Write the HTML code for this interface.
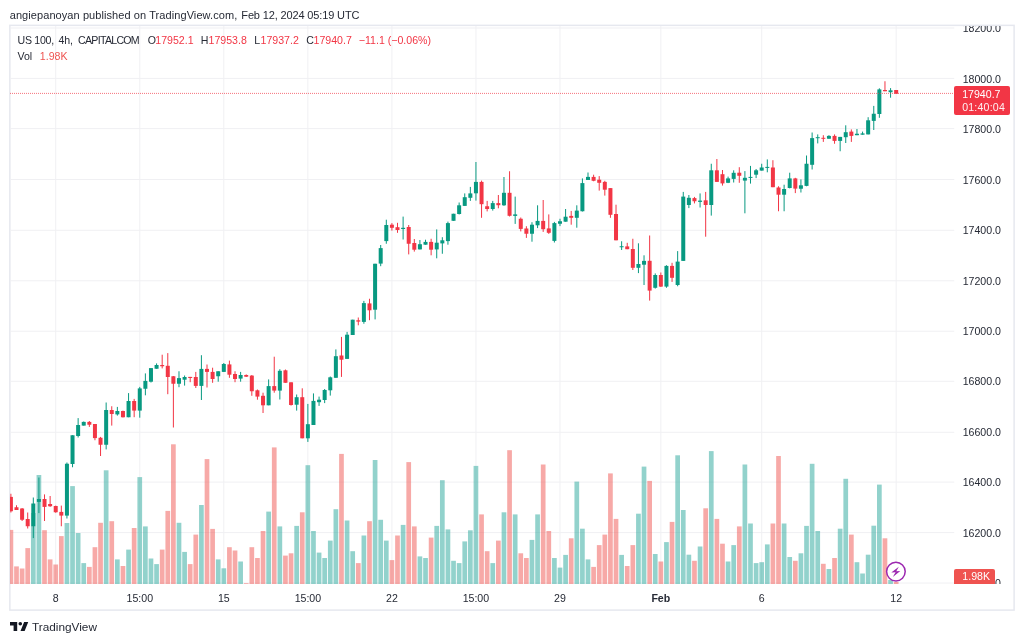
<!DOCTYPE html>
<html><head><meta charset="utf-8"><title>US 100 chart</title>
<style>
html,body{margin:0;padding:0;background:#fff;}
body{width:1024px;height:643px;position:relative;overflow:hidden;font-family:"Liberation Sans",sans-serif;color:#262a35;}
.t{position:absolute;white-space:nowrap;line-height:1;}
#frame{position:absolute;left:9px;top:25px;width:1005px;height:585px;border:1px solid #E0E3EB;box-sizing:content-box;}
.ax{position:absolute;left:962.5px;font-size:10.6px;line-height:12px;height:12px;white-space:nowrap;color:#262a35;}
.tm{position:absolute;top:591.6px;font-size:10.6px;line-height:12px;height:12px;white-space:nowrap;transform:translateX(-50%);color:#262a35;}
.r{color:#F23645;}
#axclip{position:absolute;left:955px;top:26px;width:59px;height:558px;overflow:hidden;}
</style></head><body>

<div class="t" id="hdr" style="left:9.7px;top:7.6px;font-size:11px;line-height:14px;color:#262a35;letter-spacing:0.08px">angiepanoyan published on TradingView.com,</div>
<div class="t" id="hdr2" style="left:241.3px;top:7.6px;font-size:11px;line-height:14px;color:#262a35;letter-spacing:-0.14px">Feb 12, 2024 05:19 UTC</div>
<svg width="1024" height="643" viewBox="0 0 1024 643" style="position:absolute;left:0;top:0"><defs><clipPath id="pane"><rect x="10" y="26" width="944.5" height="558"/></clipPath></defs><rect x="9.85" y="25.35" width="1004.25" height="584.75" fill="none" stroke="#E6E8EF" stroke-width="1.5"/><g clip-path="url(#pane)"><rect x="55.22" y="26" width="1" height="558" fill="#F0F0F3"/><rect x="139.26" y="26" width="1" height="558" fill="#F0F0F3"/><rect x="223.31" y="26" width="1" height="558" fill="#F0F0F3"/><rect x="307.36" y="26" width="1" height="558" fill="#F0F0F3"/><rect x="391.40" y="26" width="1" height="558" fill="#F0F0F3"/><rect x="475.44" y="26" width="1" height="558" fill="#F0F0F3"/><rect x="559.49" y="26" width="1" height="558" fill="#F0F0F3"/><rect x="660.34" y="26" width="1" height="558" fill="#F0F0F3"/><rect x="761.20" y="26" width="1" height="558" fill="#F0F0F3"/><rect x="895.67" y="26" width="1" height="558" fill="#F0F0F3"/><rect x="10" y="27.50" width="944.5" height="1" fill="#F0F0F3"/><rect x="10" y="77.90" width="944.5" height="1" fill="#F0F0F3"/><rect x="10" y="128.10" width="944.5" height="1" fill="#F0F0F3"/><rect x="10" y="179.00" width="944.5" height="1" fill="#F0F0F3"/><rect x="10" y="229.80" width="944.5" height="1" fill="#F0F0F3"/><rect x="10" y="280.30" width="944.5" height="1" fill="#F0F0F3"/><rect x="10" y="330.70" width="944.5" height="1" fill="#F0F0F3"/><rect x="10" y="380.80" width="944.5" height="1" fill="#F0F0F3"/><rect x="10" y="431.80" width="944.5" height="1" fill="#F0F0F3"/><rect x="10" y="481.60" width="944.5" height="1" fill="#F0F0F3"/><rect x="10" y="532.10" width="944.5" height="1" fill="#F0F0F3"/><rect x="10" y="582.55" width="944.5" height="1" fill="#F0F0F3"/></g><g clip-path="url(#pane)"><rect x="8.55" y="529.90" width="4.7" height="54.10" fill="rgba(239,83,80,0.5)"/><rect x="14.15" y="566.40" width="4.7" height="17.60" fill="rgba(239,83,80,0.5)"/><rect x="19.75" y="568.50" width="4.7" height="15.50" fill="rgba(239,83,80,0.5)"/><rect x="25.35" y="548.10" width="4.7" height="35.90" fill="rgba(239,83,80,0.5)"/><rect x="30.96" y="513.00" width="4.7" height="71.00" fill="rgba(38,166,154,0.5)"/><rect x="36.56" y="475.00" width="4.7" height="109.00" fill="rgba(38,166,154,0.5)"/><rect x="42.16" y="530.20" width="4.7" height="53.80" fill="rgba(239,83,80,0.5)"/><rect x="47.77" y="559.40" width="4.7" height="24.60" fill="rgba(239,83,80,0.5)"/><rect x="53.37" y="564.50" width="4.7" height="19.50" fill="rgba(239,83,80,0.5)"/><rect x="58.97" y="536.10" width="4.7" height="47.90" fill="rgba(239,83,80,0.5)"/><rect x="64.58" y="523.00" width="4.7" height="61.00" fill="rgba(38,166,154,0.5)"/><rect x="70.18" y="486.10" width="4.7" height="97.90" fill="rgba(38,166,154,0.5)"/><rect x="75.78" y="533.00" width="4.7" height="51.00" fill="rgba(38,166,154,0.5)"/><rect x="81.39" y="563.10" width="4.7" height="20.90" fill="rgba(38,166,154,0.5)"/><rect x="86.99" y="566.90" width="4.7" height="17.10" fill="rgba(239,83,80,0.5)"/><rect x="92.59" y="547.20" width="4.7" height="36.80" fill="rgba(239,83,80,0.5)"/><rect x="98.19" y="522.80" width="4.7" height="61.20" fill="rgba(239,83,80,0.5)"/><rect x="103.80" y="470.30" width="4.7" height="113.70" fill="rgba(38,166,154,0.5)"/><rect x="109.40" y="521.20" width="4.7" height="62.80" fill="rgba(239,83,80,0.5)"/><rect x="115.00" y="559.40" width="4.7" height="24.60" fill="rgba(38,166,154,0.5)"/><rect x="120.61" y="566.00" width="4.7" height="18.00" fill="rgba(239,83,80,0.5)"/><rect x="126.21" y="549.60" width="4.7" height="34.40" fill="rgba(38,166,154,0.5)"/><rect x="131.81" y="528.00" width="4.7" height="56.00" fill="rgba(239,83,80,0.5)"/><rect x="137.41" y="477.10" width="4.7" height="106.90" fill="rgba(38,166,154,0.5)"/><rect x="143.02" y="526.40" width="4.7" height="57.60" fill="rgba(38,166,154,0.5)"/><rect x="148.62" y="558.50" width="4.7" height="25.50" fill="rgba(38,166,154,0.5)"/><rect x="154.22" y="564.10" width="4.7" height="19.90" fill="rgba(38,166,154,0.5)"/><rect x="159.83" y="549.60" width="4.7" height="34.40" fill="rgba(239,83,80,0.5)"/><rect x="165.43" y="510.90" width="4.7" height="73.10" fill="rgba(239,83,80,0.5)"/><rect x="171.03" y="444.30" width="4.7" height="139.70" fill="rgba(239,83,80,0.5)"/><rect x="176.64" y="522.80" width="4.7" height="61.20" fill="rgba(38,166,154,0.5)"/><rect x="182.24" y="551.90" width="4.7" height="32.10" fill="rgba(38,166,154,0.5)"/><rect x="187.84" y="564.10" width="4.7" height="19.90" fill="rgba(239,83,80,0.5)"/><rect x="193.44" y="534.60" width="4.7" height="49.40" fill="rgba(239,83,80,0.5)"/><rect x="199.05" y="505.00" width="4.7" height="79.00" fill="rgba(38,166,154,0.5)"/><rect x="204.65" y="459.10" width="4.7" height="124.90" fill="rgba(239,83,80,0.5)"/><rect x="210.25" y="528.90" width="4.7" height="55.10" fill="rgba(239,83,80,0.5)"/><rect x="215.86" y="559.40" width="4.7" height="24.60" fill="rgba(38,166,154,0.5)"/><rect x="221.46" y="568.30" width="4.7" height="15.70" fill="rgba(38,166,154,0.5)"/><rect x="227.06" y="547.20" width="4.7" height="36.80" fill="rgba(239,83,80,0.5)"/><rect x="232.67" y="550.50" width="4.7" height="33.50" fill="rgba(239,83,80,0.5)"/><rect x="238.27" y="561.50" width="4.7" height="22.50" fill="rgba(38,166,154,0.5)"/><rect x="243.87" y="583.20" width="4.7" height="0.80" fill="rgba(239,83,80,0.5)"/><rect x="249.47" y="547.20" width="4.7" height="36.80" fill="rgba(239,83,80,0.5)"/><rect x="255.08" y="558.00" width="4.7" height="26.00" fill="rgba(239,83,80,0.5)"/><rect x="260.68" y="531.00" width="4.7" height="53.00" fill="rgba(239,83,80,0.5)"/><rect x="266.28" y="511.60" width="4.7" height="72.40" fill="rgba(38,166,154,0.5)"/><rect x="271.89" y="447.40" width="4.7" height="136.60" fill="rgba(239,83,80,0.5)"/><rect x="277.49" y="526.40" width="4.7" height="57.60" fill="rgba(38,166,154,0.5)"/><rect x="283.09" y="555.60" width="4.7" height="28.40" fill="rgba(239,83,80,0.5)"/><rect x="288.70" y="553.30" width="4.7" height="30.70" fill="rgba(239,83,80,0.5)"/><rect x="294.30" y="525.90" width="4.7" height="58.10" fill="rgba(38,166,154,0.5)"/><rect x="299.90" y="512.30" width="4.7" height="71.70" fill="rgba(239,83,80,0.5)"/><rect x="305.50" y="465.20" width="4.7" height="118.80" fill="rgba(38,166,154,0.5)"/><rect x="311.11" y="531.00" width="4.7" height="53.00" fill="rgba(38,166,154,0.5)"/><rect x="316.71" y="552.60" width="4.7" height="31.40" fill="rgba(38,166,154,0.5)"/><rect x="322.31" y="558.00" width="4.7" height="26.00" fill="rgba(38,166,154,0.5)"/><rect x="327.92" y="540.60" width="4.7" height="43.40" fill="rgba(38,166,154,0.5)"/><rect x="333.52" y="509.20" width="4.7" height="74.80" fill="rgba(38,166,154,0.5)"/><rect x="339.12" y="453.90" width="4.7" height="130.10" fill="rgba(239,83,80,0.5)"/><rect x="344.73" y="520.50" width="4.7" height="63.50" fill="rgba(38,166,154,0.5)"/><rect x="350.33" y="551.20" width="4.7" height="32.80" fill="rgba(38,166,154,0.5)"/><rect x="355.93" y="563.10" width="4.7" height="20.90" fill="rgba(239,83,80,0.5)"/><rect x="361.53" y="535.50" width="4.7" height="48.50" fill="rgba(38,166,154,0.5)"/><rect x="367.14" y="521.20" width="4.7" height="62.80" fill="rgba(239,83,80,0.5)"/><rect x="372.74" y="460.00" width="4.7" height="124.00" fill="rgba(38,166,154,0.5)"/><rect x="378.34" y="519.80" width="4.7" height="64.20" fill="rgba(38,166,154,0.5)"/><rect x="383.95" y="540.60" width="4.7" height="43.40" fill="rgba(38,166,154,0.5)"/><rect x="389.55" y="560.10" width="4.7" height="23.90" fill="rgba(239,83,80,0.5)"/><rect x="395.15" y="535.50" width="4.7" height="48.50" fill="rgba(239,83,80,0.5)"/><rect x="400.76" y="524.90" width="4.7" height="59.10" fill="rgba(38,166,154,0.5)"/><rect x="406.36" y="462.10" width="4.7" height="121.90" fill="rgba(239,83,80,0.5)"/><rect x="411.96" y="526.40" width="4.7" height="57.60" fill="rgba(239,83,80,0.5)"/><rect x="417.56" y="556.40" width="4.7" height="27.60" fill="rgba(38,166,154,0.5)"/><rect x="423.17" y="558.00" width="4.7" height="26.00" fill="rgba(38,166,154,0.5)"/><rect x="428.77" y="537.60" width="4.7" height="46.40" fill="rgba(239,83,80,0.5)"/><rect x="434.37" y="525.90" width="4.7" height="58.10" fill="rgba(38,166,154,0.5)"/><rect x="439.98" y="480.20" width="4.7" height="103.80" fill="rgba(38,166,154,0.5)"/><rect x="445.58" y="529.40" width="4.7" height="54.60" fill="rgba(38,166,154,0.5)"/><rect x="451.18" y="560.80" width="4.7" height="23.20" fill="rgba(38,166,154,0.5)"/><rect x="456.79" y="563.10" width="4.7" height="20.90" fill="rgba(38,166,154,0.5)"/><rect x="462.39" y="541.40" width="4.7" height="42.60" fill="rgba(38,166,154,0.5)"/><rect x="467.99" y="530.30" width="4.7" height="53.70" fill="rgba(38,166,154,0.5)"/><rect x="473.59" y="465.90" width="4.7" height="118.10" fill="rgba(38,166,154,0.5)"/><rect x="479.20" y="514.40" width="4.7" height="69.60" fill="rgba(239,83,80,0.5)"/><rect x="484.80" y="551.20" width="4.7" height="32.80" fill="rgba(239,83,80,0.5)"/><rect x="490.40" y="563.10" width="4.7" height="20.90" fill="rgba(38,166,154,0.5)"/><rect x="496.01" y="540.60" width="4.7" height="43.40" fill="rgba(239,83,80,0.5)"/><rect x="501.61" y="512.30" width="4.7" height="71.70" fill="rgba(38,166,154,0.5)"/><rect x="507.21" y="450.20" width="4.7" height="133.80" fill="rgba(239,83,80,0.5)"/><rect x="512.82" y="514.40" width="4.7" height="69.60" fill="rgba(38,166,154,0.5)"/><rect x="518.42" y="553.30" width="4.7" height="30.70" fill="rgba(239,83,80,0.5)"/><rect x="524.02" y="558.00" width="4.7" height="26.00" fill="rgba(239,83,80,0.5)"/><rect x="529.62" y="539.90" width="4.7" height="44.10" fill="rgba(38,166,154,0.5)"/><rect x="535.23" y="514.40" width="4.7" height="69.60" fill="rgba(38,166,154,0.5)"/><rect x="540.83" y="464.50" width="4.7" height="119.50" fill="rgba(239,83,80,0.5)"/><rect x="546.43" y="531.00" width="4.7" height="53.00" fill="rgba(239,83,80,0.5)"/><rect x="552.04" y="558.00" width="4.7" height="26.00" fill="rgba(38,166,154,0.5)"/><rect x="557.64" y="567.60" width="4.7" height="16.40" fill="rgba(38,166,154,0.5)"/><rect x="563.24" y="554.90" width="4.7" height="29.10" fill="rgba(38,166,154,0.5)"/><rect x="568.85" y="538.30" width="4.7" height="45.70" fill="rgba(239,83,80,0.5)"/><rect x="574.45" y="481.60" width="4.7" height="102.40" fill="rgba(38,166,154,0.5)"/><rect x="580.05" y="528.70" width="4.7" height="55.30" fill="rgba(38,166,154,0.5)"/><rect x="585.65" y="559.40" width="4.7" height="24.60" fill="rgba(38,166,154,0.5)"/><rect x="591.26" y="566.90" width="4.7" height="17.10" fill="rgba(239,83,80,0.5)"/><rect x="596.86" y="545.10" width="4.7" height="38.90" fill="rgba(239,83,80,0.5)"/><rect x="602.46" y="534.60" width="4.7" height="49.40" fill="rgba(239,83,80,0.5)"/><rect x="608.07" y="473.40" width="4.7" height="110.60" fill="rgba(239,83,80,0.5)"/><rect x="613.67" y="518.90" width="4.7" height="65.10" fill="rgba(239,83,80,0.5)"/><rect x="619.27" y="554.90" width="4.7" height="29.10" fill="rgba(38,166,154,0.5)"/><rect x="624.88" y="566.00" width="4.7" height="18.00" fill="rgba(239,83,80,0.5)"/><rect x="630.48" y="545.10" width="4.7" height="38.90" fill="rgba(239,83,80,0.5)"/><rect x="636.08" y="513.70" width="4.7" height="70.30" fill="rgba(38,166,154,0.5)"/><rect x="641.68" y="466.60" width="4.7" height="117.40" fill="rgba(38,166,154,0.5)"/><rect x="647.29" y="480.90" width="4.7" height="103.10" fill="rgba(239,83,80,0.5)"/><rect x="652.89" y="554.00" width="4.7" height="30.00" fill="rgba(38,166,154,0.5)"/><rect x="658.49" y="561.50" width="4.7" height="22.50" fill="rgba(239,83,80,0.5)"/><rect x="664.10" y="542.10" width="4.7" height="41.90" fill="rgba(38,166,154,0.5)"/><rect x="669.70" y="521.90" width="4.7" height="62.10" fill="rgba(239,83,80,0.5)"/><rect x="675.30" y="455.30" width="4.7" height="128.70" fill="rgba(38,166,154,0.5)"/><rect x="680.91" y="510.00" width="4.7" height="74.00" fill="rgba(38,166,154,0.5)"/><rect x="686.51" y="554.70" width="4.7" height="29.30" fill="rgba(38,166,154,0.5)"/><rect x="692.11" y="560.80" width="4.7" height="23.20" fill="rgba(239,83,80,0.5)"/><rect x="697.72" y="546.50" width="4.7" height="37.50" fill="rgba(38,166,154,0.5)"/><rect x="703.32" y="508.30" width="4.7" height="75.70" fill="rgba(239,83,80,0.5)"/><rect x="708.92" y="451.10" width="4.7" height="132.90" fill="rgba(38,166,154,0.5)"/><rect x="714.52" y="518.90" width="4.7" height="65.10" fill="rgba(239,83,80,0.5)"/><rect x="720.13" y="543.70" width="4.7" height="40.30" fill="rgba(239,83,80,0.5)"/><rect x="725.73" y="561.50" width="4.7" height="22.50" fill="rgba(38,166,154,0.5)"/><rect x="731.33" y="545.10" width="4.7" height="38.90" fill="rgba(38,166,154,0.5)"/><rect x="736.94" y="526.40" width="4.7" height="57.60" fill="rgba(239,83,80,0.5)"/><rect x="742.54" y="464.50" width="4.7" height="119.50" fill="rgba(38,166,154,0.5)"/><rect x="748.14" y="523.50" width="4.7" height="60.50" fill="rgba(38,166,154,0.5)"/><rect x="753.75" y="563.10" width="4.7" height="20.90" fill="rgba(38,166,154,0.5)"/><rect x="759.35" y="562.20" width="4.7" height="21.80" fill="rgba(38,166,154,0.5)"/><rect x="764.95" y="544.40" width="4.7" height="39.60" fill="rgba(38,166,154,0.5)"/><rect x="770.55" y="523.50" width="4.7" height="60.50" fill="rgba(239,83,80,0.5)"/><rect x="776.16" y="456.00" width="4.7" height="128.00" fill="rgba(239,83,80,0.5)"/><rect x="781.76" y="523.50" width="4.7" height="60.50" fill="rgba(38,166,154,0.5)"/><rect x="787.36" y="557.00" width="4.7" height="27.00" fill="rgba(38,166,154,0.5)"/><rect x="792.97" y="560.80" width="4.7" height="23.20" fill="rgba(239,83,80,0.5)"/><rect x="798.57" y="553.30" width="4.7" height="30.70" fill="rgba(38,166,154,0.5)"/><rect x="804.17" y="525.90" width="4.7" height="58.10" fill="rgba(38,166,154,0.5)"/><rect x="809.77" y="463.80" width="4.7" height="120.20" fill="rgba(38,166,154,0.5)"/><rect x="815.38" y="531.00" width="4.7" height="53.00" fill="rgba(38,166,154,0.5)"/><rect x="820.98" y="563.80" width="4.7" height="20.20" fill="rgba(239,83,80,0.5)"/><rect x="826.58" y="569.00" width="4.7" height="15.00" fill="rgba(38,166,154,0.5)"/><rect x="832.19" y="558.00" width="4.7" height="26.00" fill="rgba(239,83,80,0.5)"/><rect x="837.79" y="528.70" width="4.7" height="55.30" fill="rgba(38,166,154,0.5)"/><rect x="843.39" y="478.80" width="4.7" height="105.20" fill="rgba(38,166,154,0.5)"/><rect x="849.00" y="534.60" width="4.7" height="49.40" fill="rgba(239,83,80,0.5)"/><rect x="854.60" y="562.20" width="4.7" height="21.80" fill="rgba(38,166,154,0.5)"/><rect x="860.20" y="573.50" width="4.7" height="10.50" fill="rgba(38,166,154,0.5)"/><rect x="865.80" y="554.70" width="4.7" height="29.30" fill="rgba(38,166,154,0.5)"/><rect x="871.41" y="525.70" width="4.7" height="58.30" fill="rgba(38,166,154,0.5)"/><rect x="877.01" y="484.60" width="4.7" height="99.40" fill="rgba(38,166,154,0.5)"/><rect x="882.61" y="538.30" width="4.7" height="45.70" fill="rgba(239,83,80,0.5)"/><rect x="888.22" y="580.00" width="4.7" height="4.00" fill="rgba(38,166,154,0.5)"/><rect x="893.82" y="582.00" width="4.7" height="2.00" fill="rgba(239,83,80,0.5)"/></g><g clip-path="url(#pane)"><rect x="10.40" y="493.75" width="1" height="18.75" fill="#F23645"/><rect x="8.90" y="496.90" width="4.0" height="14.35" fill="#F23645"/><rect x="16.00" y="505.25" width="1" height="4.75" fill="#F23645"/><rect x="14.50" y="507.25" width="4.0" height="2.75" fill="#F23645"/><rect x="21.60" y="508.00" width="1" height="13.00" fill="#F23645"/><rect x="20.10" y="508.50" width="4.0" height="11.25" fill="#F23645"/><rect x="27.20" y="512.50" width="1" height="16.00" fill="#F23645"/><rect x="25.70" y="519.00" width="4.0" height="7.25" fill="#F23645"/><rect x="32.81" y="497.50" width="1" height="40.60" fill="#089981"/><rect x="31.31" y="503.50" width="4.0" height="22.75" fill="#089981"/><rect x="38.41" y="477.50" width="1" height="35.60" fill="#089981"/><rect x="36.91" y="499.00" width="4.0" height="2.90" fill="#089981"/><rect x="44.01" y="494.40" width="1" height="26.60" fill="#F23645"/><rect x="42.51" y="499.00" width="4.0" height="7.90" fill="#F23645"/><rect x="49.62" y="496.00" width="1" height="10.90" fill="#F23645"/><rect x="48.12" y="504.00" width="4.0" height="2.25" fill="#F23645"/><rect x="55.22" y="505.60" width="1" height="7.15" fill="#F23645"/><rect x="53.72" y="506.00" width="4.0" height="6.25" fill="#F23645"/><rect x="60.82" y="505.60" width="1" height="20.65" fill="#F23645"/><rect x="59.32" y="511.90" width="4.0" height="3.70" fill="#F23645"/><rect x="66.43" y="462.50" width="1" height="56.00" fill="#089981"/><rect x="64.93" y="463.75" width="4.0" height="51.85" fill="#089981"/><rect x="72.03" y="435.25" width="1" height="32.00" fill="#089981"/><rect x="70.53" y="435.25" width="4.0" height="28.75" fill="#089981"/><rect x="77.63" y="418.10" width="1" height="19.40" fill="#089981"/><rect x="76.13" y="425.00" width="4.0" height="11.00" fill="#089981"/><rect x="83.23" y="421.50" width="1" height="4.10" fill="#089981"/><rect x="81.73" y="421.90" width="4.0" height="3.70" fill="#089981"/><rect x="88.84" y="421.00" width="1" height="5.90" fill="#F23645"/><rect x="87.34" y="421.90" width="4.0" height="2.85" fill="#F23645"/><rect x="94.44" y="424.00" width="1" height="16.25" fill="#F23645"/><rect x="92.94" y="424.00" width="4.0" height="14.10" fill="#F23645"/><rect x="100.04" y="436.90" width="1" height="19.10" fill="#F23645"/><rect x="98.54" y="437.75" width="4.0" height="7.00" fill="#F23645"/><rect x="105.65" y="402.50" width="1" height="46.90" fill="#089981"/><rect x="104.15" y="410.00" width="4.0" height="34.75" fill="#089981"/><rect x="111.25" y="406.25" width="1" height="19.35" fill="#F23645"/><rect x="109.75" y="410.00" width="4.0" height="4.00" fill="#F23645"/><rect x="116.85" y="406.90" width="1" height="8.70" fill="#089981"/><rect x="115.35" y="411.00" width="4.0" height="3.40" fill="#089981"/><rect x="122.46" y="410.60" width="1" height="6.90" fill="#F23645"/><rect x="120.96" y="411.00" width="4.0" height="6.25" fill="#F23645"/><rect x="128.06" y="393.10" width="1" height="24.15" fill="#089981"/><rect x="126.56" y="401.00" width="4.0" height="16.25" fill="#089981"/><rect x="133.66" y="398.90" width="1" height="18.30" fill="#F23645"/><rect x="132.16" y="401.00" width="4.0" height="9.60" fill="#F23645"/><rect x="139.26" y="386.90" width="1" height="30.80" fill="#089981"/><rect x="137.76" y="388.40" width="4.0" height="22.20" fill="#089981"/><rect x="144.87" y="373.40" width="1" height="21.90" fill="#089981"/><rect x="143.37" y="380.90" width="4.0" height="7.85" fill="#089981"/><rect x="150.47" y="368.10" width="1" height="14.40" fill="#089981"/><rect x="148.97" y="368.10" width="4.0" height="13.60" fill="#089981"/><rect x="156.07" y="363.40" width="1" height="5.35" fill="#089981"/><rect x="154.57" y="365.00" width="4.0" height="3.75" fill="#089981"/><rect x="161.68" y="354.70" width="1" height="13.70" fill="#F23645"/><rect x="160.18" y="365.00" width="4.0" height="1.25" fill="#F23645"/><rect x="167.28" y="353.10" width="1" height="41.10" fill="#F23645"/><rect x="165.78" y="365.80" width="4.0" height="11.20" fill="#F23645"/><rect x="172.88" y="376.00" width="1" height="51.50" fill="#F23645"/><rect x="171.38" y="376.25" width="4.0" height="7.50" fill="#F23645"/><rect x="178.49" y="371.25" width="1" height="15.95" fill="#089981"/><rect x="176.99" y="378.10" width="4.0" height="5.65" fill="#089981"/><rect x="184.09" y="375.50" width="1" height="10.10" fill="#089981"/><rect x="182.59" y="377.00" width="4.0" height="2.70" fill="#089981"/><rect x="189.69" y="376.90" width="1" height="5.30" fill="#F23645"/><rect x="188.19" y="376.90" width="4.0" height="1.10" fill="#F23645"/><rect x="195.29" y="371.90" width="1" height="16.10" fill="#F23645"/><rect x="193.79" y="377.00" width="4.0" height="8.90" fill="#F23645"/><rect x="200.90" y="355.20" width="1" height="44.80" fill="#089981"/><rect x="199.40" y="368.90" width="4.0" height="17.00" fill="#089981"/><rect x="206.50" y="364.50" width="1" height="23.00" fill="#F23645"/><rect x="205.00" y="368.90" width="4.0" height="3.00" fill="#F23645"/><rect x="212.10" y="367.70" width="1" height="15.10" fill="#F23645"/><rect x="210.60" y="371.90" width="4.0" height="7.10" fill="#F23645"/><rect x="217.71" y="371.25" width="1" height="10.45" fill="#089981"/><rect x="216.21" y="371.25" width="4.0" height="5.00" fill="#089981"/><rect x="223.31" y="363.00" width="1" height="8.90" fill="#089981"/><rect x="221.81" y="364.00" width="4.0" height="7.90" fill="#089981"/><rect x="228.91" y="360.60" width="1" height="17.20" fill="#F23645"/><rect x="227.41" y="364.40" width="4.0" height="10.30" fill="#F23645"/><rect x="234.52" y="371.25" width="1" height="10.95" fill="#F23645"/><rect x="233.02" y="374.00" width="4.0" height="5.00" fill="#F23645"/><rect x="240.12" y="371.90" width="1" height="9.80" fill="#089981"/><rect x="238.62" y="375.00" width="4.0" height="3.60" fill="#089981"/><rect x="245.72" y="374.40" width="1" height="2.60" fill="#F23645"/><rect x="244.22" y="375.00" width="4.0" height="1.70" fill="#F23645"/><rect x="251.32" y="375.00" width="1" height="20.80" fill="#F23645"/><rect x="249.82" y="375.60" width="4.0" height="15.65" fill="#F23645"/><rect x="256.93" y="389.50" width="1" height="10.20" fill="#F23645"/><rect x="255.43" y="390.30" width="4.0" height="6.30" fill="#F23645"/><rect x="262.53" y="392.70" width="1" height="20.30" fill="#F23645"/><rect x="261.03" y="395.80" width="4.0" height="9.50" fill="#F23645"/><rect x="268.13" y="379.40" width="1" height="25.90" fill="#089981"/><rect x="266.63" y="386.10" width="4.0" height="19.20" fill="#089981"/><rect x="273.74" y="356.70" width="1" height="36.00" fill="#F23645"/><rect x="272.24" y="386.10" width="4.0" height="4.50" fill="#F23645"/><rect x="279.34" y="369.20" width="1" height="30.30" fill="#089981"/><rect x="277.84" y="370.80" width="4.0" height="19.80" fill="#089981"/><rect x="284.94" y="369.50" width="1" height="13.30" fill="#F23645"/><rect x="283.44" y="370.30" width="4.0" height="12.50" fill="#F23645"/><rect x="290.55" y="382.30" width="1" height="23.30" fill="#F23645"/><rect x="289.05" y="382.30" width="4.0" height="22.70" fill="#F23645"/><rect x="296.15" y="394.50" width="1" height="16.10" fill="#089981"/><rect x="294.65" y="397.20" width="4.0" height="7.50" fill="#089981"/><rect x="301.75" y="388.30" width="1" height="50.00" fill="#F23645"/><rect x="300.25" y="397.20" width="4.0" height="41.10" fill="#F23645"/><rect x="307.36" y="403.90" width="1" height="38.00" fill="#089981"/><rect x="305.86" y="424.20" width="4.0" height="14.10" fill="#089981"/><rect x="312.96" y="393.40" width="1" height="31.60" fill="#089981"/><rect x="311.46" y="400.90" width="4.0" height="24.10" fill="#089981"/><rect x="318.56" y="396.60" width="1" height="9.30" fill="#089981"/><rect x="317.06" y="399.70" width="4.0" height="2.50" fill="#089981"/><rect x="324.16" y="389.00" width="1" height="14.10" fill="#089981"/><rect x="322.66" y="390.00" width="4.0" height="10.00" fill="#089981"/><rect x="329.77" y="376.50" width="1" height="19.10" fill="#089981"/><rect x="328.27" y="377.30" width="4.0" height="13.00" fill="#089981"/><rect x="335.37" y="349.40" width="1" height="28.40" fill="#089981"/><rect x="333.87" y="356.20" width="4.0" height="21.60" fill="#089981"/><rect x="340.97" y="336.90" width="1" height="40.00" fill="#F23645"/><rect x="339.47" y="355.50" width="4.0" height="4.20" fill="#F23645"/><rect x="346.58" y="331.90" width="1" height="27.00" fill="#089981"/><rect x="345.08" y="334.70" width="4.0" height="24.20" fill="#089981"/><rect x="352.18" y="319.70" width="1" height="15.30" fill="#089981"/><rect x="350.68" y="319.70" width="4.0" height="15.30" fill="#089981"/><rect x="357.78" y="317.50" width="1" height="7.80" fill="#F23645"/><rect x="356.28" y="320.30" width="4.0" height="1.30" fill="#F23645"/><rect x="363.38" y="300.90" width="1" height="22.85" fill="#089981"/><rect x="361.88" y="303.10" width="4.0" height="18.80" fill="#089981"/><rect x="368.99" y="298.75" width="1" height="21.45" fill="#F23645"/><rect x="367.49" y="303.40" width="4.0" height="6.90" fill="#F23645"/><rect x="374.59" y="263.75" width="1" height="55.65" fill="#089981"/><rect x="373.09" y="263.75" width="4.0" height="45.95" fill="#089981"/><rect x="380.19" y="245.00" width="1" height="21.20" fill="#089981"/><rect x="378.69" y="248.10" width="4.0" height="15.50" fill="#089981"/><rect x="385.80" y="219.70" width="1" height="24.05" fill="#089981"/><rect x="384.30" y="225.00" width="4.0" height="16.10" fill="#089981"/><rect x="391.40" y="223.10" width="1" height="7.50" fill="#F23645"/><rect x="389.90" y="224.70" width="4.0" height="3.10" fill="#F23645"/><rect x="397.00" y="222.80" width="1" height="10.00" fill="#F23645"/><rect x="395.50" y="227.20" width="4.0" height="2.80" fill="#F23645"/><rect x="402.61" y="216.60" width="1" height="22.90" fill="#089981"/><rect x="401.11" y="227.80" width="4.0" height="1.20" fill="#089981"/><rect x="408.21" y="225.00" width="1" height="29.40" fill="#F23645"/><rect x="406.71" y="227.00" width="4.0" height="16.75" fill="#F23645"/><rect x="413.81" y="239.00" width="1" height="12.60" fill="#F23645"/><rect x="412.31" y="243.00" width="4.0" height="6.70" fill="#F23645"/><rect x="419.41" y="240.00" width="1" height="9.40" fill="#089981"/><rect x="417.91" y="244.20" width="4.0" height="5.20" fill="#089981"/><rect x="425.02" y="239.70" width="1" height="5.00" fill="#089981"/><rect x="423.52" y="241.90" width="4.0" height="2.80" fill="#089981"/><rect x="430.62" y="238.75" width="1" height="16.55" fill="#F23645"/><rect x="429.12" y="241.90" width="4.0" height="7.80" fill="#F23645"/><rect x="436.22" y="229.40" width="1" height="28.90" fill="#089981"/><rect x="434.72" y="242.70" width="4.0" height="6.70" fill="#089981"/><rect x="441.83" y="237.20" width="1" height="16.55" fill="#089981"/><rect x="440.33" y="240.30" width="4.0" height="3.10" fill="#089981"/><rect x="447.43" y="221.60" width="1" height="23.10" fill="#089981"/><rect x="445.93" y="223.10" width="4.0" height="18.00" fill="#089981"/><rect x="453.03" y="213.75" width="1" height="7.05" fill="#089981"/><rect x="451.53" y="213.75" width="4.0" height="7.05" fill="#089981"/><rect x="458.64" y="202.50" width="1" height="12.00" fill="#089981"/><rect x="457.14" y="205.30" width="4.0" height="8.70" fill="#089981"/><rect x="464.24" y="193.40" width="1" height="12.50" fill="#089981"/><rect x="462.74" y="197.20" width="4.0" height="8.70" fill="#089981"/><rect x="469.84" y="186.90" width="1" height="14.00" fill="#089981"/><rect x="468.34" y="193.40" width="4.0" height="4.40" fill="#089981"/><rect x="475.44" y="162.00" width="1" height="38.60" fill="#089981"/><rect x="473.94" y="181.90" width="4.0" height="11.40" fill="#089981"/><rect x="481.05" y="180.60" width="1" height="37.20" fill="#F23645"/><rect x="479.55" y="181.90" width="4.0" height="22.30" fill="#F23645"/><rect x="486.65" y="200.90" width="1" height="10.50" fill="#F23645"/><rect x="485.15" y="206.25" width="4.0" height="2.75" fill="#F23645"/><rect x="492.25" y="200.90" width="1" height="9.70" fill="#089981"/><rect x="490.75" y="203.10" width="4.0" height="5.90" fill="#089981"/><rect x="497.86" y="195.00" width="1" height="13.30" fill="#F23645"/><rect x="496.36" y="203.10" width="4.0" height="2.10" fill="#F23645"/><rect x="503.46" y="177.00" width="1" height="28.90" fill="#089981"/><rect x="501.96" y="192.80" width="4.0" height="12.50" fill="#089981"/><rect x="509.06" y="171.25" width="1" height="45.25" fill="#F23645"/><rect x="507.56" y="192.80" width="4.0" height="23.00" fill="#F23645"/><rect x="514.67" y="196.60" width="1" height="27.30" fill="#089981"/><rect x="513.17" y="214.40" width="4.0" height="1.50" fill="#089981"/><rect x="520.27" y="217.50" width="1" height="13.90" fill="#F23645"/><rect x="518.77" y="218.75" width="4.0" height="10.15" fill="#F23645"/><rect x="525.87" y="226.20" width="1" height="11.70" fill="#F23645"/><rect x="524.37" y="228.50" width="4.0" height="5.25" fill="#F23645"/><rect x="531.48" y="222.20" width="1" height="19.50" fill="#089981"/><rect x="529.98" y="224.70" width="4.0" height="9.05" fill="#089981"/><rect x="537.08" y="205.30" width="1" height="22.80" fill="#089981"/><rect x="535.58" y="220.90" width="4.0" height="4.40" fill="#089981"/><rect x="542.68" y="200.00" width="1" height="31.90" fill="#F23645"/><rect x="541.18" y="220.90" width="4.0" height="8.30" fill="#F23645"/><rect x="548.28" y="214.40" width="1" height="19.50" fill="#F23645"/><rect x="546.78" y="228.40" width="4.0" height="4.40" fill="#F23645"/><rect x="553.89" y="221.90" width="1" height="20.60" fill="#089981"/><rect x="552.39" y="223.10" width="4.0" height="17.80" fill="#089981"/><rect x="559.49" y="218.75" width="1" height="7.35" fill="#089981"/><rect x="557.99" y="221.25" width="4.0" height="2.50" fill="#089981"/><rect x="565.09" y="209.00" width="1" height="12.70" fill="#089981"/><rect x="563.59" y="216.70" width="4.0" height="5.00" fill="#089981"/><rect x="570.70" y="210.90" width="1" height="13.80" fill="#F23645"/><rect x="569.20" y="215.90" width="4.0" height="1.90" fill="#F23645"/><rect x="576.30" y="205.30" width="1" height="22.40" fill="#089981"/><rect x="574.80" y="210.60" width="4.0" height="7.20" fill="#089981"/><rect x="581.90" y="178.40" width="1" height="33.10" fill="#089981"/><rect x="580.40" y="183.10" width="4.0" height="28.15" fill="#089981"/><rect x="587.50" y="172.50" width="1" height="7.50" fill="#089981"/><rect x="586.00" y="176.90" width="4.0" height="3.10" fill="#089981"/><rect x="593.11" y="174.70" width="1" height="6.55" fill="#F23645"/><rect x="591.61" y="176.90" width="4.0" height="3.90" fill="#F23645"/><rect x="598.71" y="176.10" width="1" height="14.50" fill="#F23645"/><rect x="597.21" y="179.70" width="4.0" height="3.10" fill="#F23645"/><rect x="604.31" y="180.80" width="1" height="14.80" fill="#F23645"/><rect x="602.81" y="181.90" width="4.0" height="7.80" fill="#F23645"/><rect x="609.92" y="188.10" width="1" height="29.70" fill="#F23645"/><rect x="608.42" y="188.10" width="4.0" height="26.70" fill="#F23645"/><rect x="615.52" y="204.70" width="1" height="35.60" fill="#F23645"/><rect x="614.02" y="214.00" width="4.0" height="26.30" fill="#F23645"/><rect x="621.12" y="241.25" width="1" height="8.75" fill="#089981"/><rect x="619.62" y="246.25" width="4.0" height="1.00" fill="#089981"/><rect x="626.73" y="242.80" width="1" height="6.40" fill="#F23645"/><rect x="625.23" y="246.40" width="4.0" height="2.80" fill="#F23645"/><rect x="632.33" y="238.75" width="1" height="31.25" fill="#F23645"/><rect x="630.83" y="249.00" width="4.0" height="18.80" fill="#F23645"/><rect x="637.93" y="243.30" width="1" height="29.80" fill="#089981"/><rect x="636.43" y="264.00" width="4.0" height="3.80" fill="#089981"/><rect x="643.53" y="255.30" width="1" height="29.70" fill="#089981"/><rect x="642.03" y="260.90" width="4.0" height="3.80" fill="#089981"/><rect x="649.14" y="235.50" width="1" height="65.10" fill="#F23645"/><rect x="647.64" y="260.80" width="4.0" height="29.80" fill="#F23645"/><rect x="654.74" y="273.40" width="1" height="15.20" fill="#089981"/><rect x="653.24" y="275.00" width="4.0" height="12.80" fill="#089981"/><rect x="660.34" y="272.50" width="1" height="14.50" fill="#F23645"/><rect x="658.84" y="275.00" width="4.0" height="11.60" fill="#F23645"/><rect x="665.95" y="265.20" width="1" height="22.60" fill="#089981"/><rect x="664.45" y="265.90" width="4.0" height="20.70" fill="#089981"/><rect x="671.55" y="262.80" width="1" height="19.10" fill="#F23645"/><rect x="670.05" y="265.90" width="4.0" height="11.90" fill="#F23645"/><rect x="677.15" y="251.10" width="1" height="35.15" fill="#089981"/><rect x="675.65" y="261.60" width="4.0" height="23.40" fill="#089981"/><rect x="682.76" y="191.90" width="1" height="69.00" fill="#089981"/><rect x="681.26" y="196.60" width="4.0" height="64.30" fill="#089981"/><rect x="688.36" y="195.00" width="1" height="13.10" fill="#089981"/><rect x="686.86" y="197.80" width="4.0" height="7.20" fill="#089981"/><rect x="693.96" y="196.90" width="1" height="6.50" fill="#F23645"/><rect x="692.46" y="198.10" width="4.0" height="3.15" fill="#F23645"/><rect x="699.57" y="193.40" width="1" height="14.10" fill="#089981"/><rect x="698.07" y="200.60" width="4.0" height="1.30" fill="#089981"/><rect x="705.17" y="191.90" width="1" height="44.80" fill="#F23645"/><rect x="703.67" y="200.30" width="4.0" height="4.70" fill="#F23645"/><rect x="710.77" y="163.75" width="1" height="51.85" fill="#089981"/><rect x="709.27" y="170.30" width="4.0" height="34.70" fill="#089981"/><rect x="716.37" y="159.00" width="1" height="22.90" fill="#F23645"/><rect x="714.87" y="170.30" width="4.0" height="11.60" fill="#F23645"/><rect x="721.98" y="170.00" width="1" height="15.60" fill="#F23645"/><rect x="720.48" y="174.20" width="4.0" height="9.20" fill="#F23645"/><rect x="727.58" y="176.60" width="1" height="6.50" fill="#089981"/><rect x="726.08" y="178.40" width="4.0" height="4.40" fill="#089981"/><rect x="733.18" y="170.30" width="1" height="12.20" fill="#089981"/><rect x="731.68" y="172.80" width="4.0" height="6.10" fill="#089981"/><rect x="738.79" y="167.20" width="1" height="15.60" fill="#F23645"/><rect x="737.29" y="172.70" width="4.0" height="3.10" fill="#F23645"/><rect x="744.39" y="171.10" width="1" height="42.20" fill="#089981"/><rect x="742.89" y="177.80" width="4.0" height="2.80" fill="#089981"/><rect x="749.99" y="165.90" width="1" height="17.70" fill="#089981"/><rect x="748.49" y="176.90" width="4.0" height="1.00" fill="#089981"/><rect x="755.60" y="169.00" width="1" height="9.10" fill="#089981"/><rect x="754.10" y="170.30" width="4.0" height="4.40" fill="#089981"/><rect x="761.20" y="163.75" width="1" height="6.85" fill="#089981"/><rect x="759.70" y="167.50" width="4.0" height="3.10" fill="#089981"/><rect x="766.80" y="159.40" width="1" height="12.90" fill="#089981"/><rect x="765.30" y="166.90" width="4.0" height="1.00" fill="#089981"/><rect x="772.40" y="160.20" width="1" height="27.00" fill="#F23645"/><rect x="770.90" y="167.50" width="4.0" height="19.70" fill="#F23645"/><rect x="778.01" y="186.25" width="1" height="25.00" fill="#F23645"/><rect x="776.51" y="187.50" width="4.0" height="7.20" fill="#F23645"/><rect x="783.61" y="184.70" width="1" height="26.55" fill="#089981"/><rect x="782.11" y="189.00" width="4.0" height="5.70" fill="#089981"/><rect x="789.21" y="172.70" width="1" height="15.70" fill="#089981"/><rect x="787.71" y="178.40" width="4.0" height="9.60" fill="#089981"/><rect x="794.82" y="177.80" width="1" height="15.30" fill="#F23645"/><rect x="793.32" y="178.40" width="4.0" height="10.20" fill="#F23645"/><rect x="800.42" y="179.40" width="1" height="13.10" fill="#089981"/><rect x="798.92" y="185.30" width="4.0" height="3.45" fill="#089981"/><rect x="806.02" y="155.50" width="1" height="30.75" fill="#089981"/><rect x="804.52" y="163.75" width="4.0" height="22.15" fill="#089981"/><rect x="811.62" y="132.50" width="1" height="37.00" fill="#089981"/><rect x="810.12" y="138.10" width="4.0" height="26.70" fill="#089981"/><rect x="817.23" y="134.40" width="1" height="9.00" fill="#089981"/><rect x="815.73" y="137.20" width="4.0" height="1.00" fill="#089981"/><rect x="822.83" y="135.20" width="1" height="6.70" fill="#F23645"/><rect x="821.33" y="137.80" width="4.0" height="1.00" fill="#F23645"/><rect x="828.43" y="135.20" width="1" height="3.55" fill="#089981"/><rect x="826.93" y="135.90" width="4.0" height="2.85" fill="#089981"/><rect x="834.04" y="134.40" width="1" height="9.35" fill="#F23645"/><rect x="832.54" y="135.90" width="4.0" height="5.00" fill="#F23645"/><rect x="839.64" y="136.90" width="1" height="14.35" fill="#089981"/><rect x="838.14" y="136.90" width="4.0" height="4.00" fill="#089981"/><rect x="845.24" y="125.30" width="1" height="17.70" fill="#089981"/><rect x="843.74" y="132.20" width="4.0" height="5.00" fill="#089981"/><rect x="850.85" y="129.40" width="1" height="12.50" fill="#F23645"/><rect x="849.35" y="131.60" width="4.0" height="4.30" fill="#F23645"/><rect x="856.45" y="129.00" width="1" height="6.20" fill="#089981"/><rect x="854.95" y="133.75" width="4.0" height="1.45" fill="#089981"/><rect x="862.05" y="131.60" width="1" height="3.10" fill="#089981"/><rect x="860.55" y="133.40" width="4.0" height="1.30" fill="#089981"/><rect x="867.65" y="117.20" width="1" height="17.20" fill="#089981"/><rect x="866.15" y="120.30" width="4.0" height="14.10" fill="#089981"/><rect x="873.26" y="105.90" width="1" height="24.10" fill="#089981"/><rect x="871.76" y="113.75" width="4.0" height="7.15" fill="#089981"/><rect x="878.86" y="88.30" width="1" height="29.50" fill="#089981"/><rect x="877.36" y="89.40" width="4.0" height="24.60" fill="#089981"/><rect x="884.46" y="81.25" width="1" height="10.00" fill="#F23645"/><rect x="882.96" y="90.00" width="4.0" height="1.25" fill="#F23645"/><rect x="890.07" y="88.10" width="1" height="9.60" fill="#089981"/><rect x="888.57" y="90.30" width="4.0" height="1.90" fill="#089981"/><rect x="895.67" y="90.00" width="1" height="3.75" fill="#F23645"/><rect x="894.17" y="90.00" width="4.0" height="3.75" fill="#F23645"/></g><line x1="10" y1="93.4" x2="954.5" y2="93.4" stroke="#F23645" stroke-width="1" stroke-dasharray="1 1" opacity="0.7"/><g transform="translate(895.9 571.6)"><circle r="9.3" fill="#fff" stroke="#9C27B0" stroke-width="1.5"/><path d="M2.9 -4.9 L-4.6 0.9 L-0.3 0.6 L-3.1 5.3 L4.4 -0.6 L0.4 -0.3 Z" fill="#9C27B0"/></g></svg>
<div id="axclip">
<div class="ax" style="left:7.7px;top:-3.90px">18200.0</div>
<div class="ax" style="left:7.7px;top:46.50px">18000.0</div>
<div class="ax" style="left:7.7px;top:96.70px">17800.0</div>
<div class="ax" style="left:7.7px;top:147.60px">17600.0</div>
<div class="ax" style="left:7.7px;top:198.40px">17400.0</div>
<div class="ax" style="left:7.7px;top:248.90px">17200.0</div>
<div class="ax" style="left:7.7px;top:299.30px">17000.0</div>
<div class="ax" style="left:7.7px;top:349.40px">16800.0</div>
<div class="ax" style="left:7.7px;top:400.40px">16600.0</div>
<div class="ax" style="left:7.7px;top:450.20px">16400.0</div>
<div class="ax" style="left:7.7px;top:500.70px">16200.0</div>
<div class="ax" style="left:7.7px;top:551.15px">16000.0</div>
</div>
<div style="position:absolute;left:954.2px;top:86px;width:56.3px;height:28.6px;background:#F23645;border-radius:2px;"></div>
<div class="t" style="left:962.2px;top:87.7px;font-size:10.6px;line-height:12px;color:#fff;">17940.7</div>
<div class="t" style="left:962.2px;top:101.4px;font-size:10.6px;letter-spacing:.2px;line-height:12px;color:#fff;opacity:.92">01:40:04</div>
<div style="position:absolute;left:954.2px;top:568.5px;width:41.2px;height:15.3px;background:#EF5350;border-radius:2px 2px 0 0;"></div>
<div class="t" style="left:962.3px;top:570.4px;font-size:10.6px;line-height:12px;color:#fff;">1.98K</div>
<div class="tm" style="left:55.7px;">8</div>
<div class="tm" style="left:139.8px;">15:00</div>
<div class="tm" style="left:223.8px;">15</div>
<div class="tm" style="left:307.9px;">15:00</div>
<div class="tm" style="left:391.9px;">22</div>
<div class="tm" style="left:475.9px;">15:00</div>
<div class="tm" style="left:560.0px;">29</div>
<div class="tm" style="left:660.8px;font-weight:bold;">Feb</div>
<div class="tm" style="left:761.7px;">6</div>
<div class="tm" style="left:896.2px;">12</div>
<div class="t " style="left:17.5px;top:34.35px;font-size:10.6px;line-height:12px;letter-spacing:-0.27px;">US 100,</div>
<div class="t " style="left:58.6px;top:34.35px;font-size:10.6px;line-height:12px;letter-spacing:-0.2px;">4h,</div>
<div class="t " style="left:78.1px;top:34.35px;font-size:10.6px;line-height:12px;letter-spacing:-0.72px;">CAPITALCOM</div>
<div class="t " style="left:147.7px;top:34.35px;font-size:10.6px;line-height:12px;">O</div>
<div class="t r" style="left:155.3px;top:34.35px;font-size:10.6px;line-height:12px;">17952.1</div>
<div class="t " style="left:200.8px;top:34.35px;font-size:10.6px;line-height:12px;">H</div>
<div class="t r" style="left:208.5px;top:34.35px;font-size:10.6px;line-height:12px;">17953.8</div>
<div class="t " style="left:254.3px;top:34.35px;font-size:10.6px;line-height:12px;">L</div>
<div class="t r" style="left:260.5px;top:34.35px;font-size:10.6px;line-height:12px;">17937.2</div>
<div class="t " style="left:306.3px;top:34.35px;font-size:10.6px;line-height:12px;">C</div>
<div class="t r" style="left:313.5px;top:34.35px;font-size:10.6px;line-height:12px;">17940.7</div>
<div class="t r" style="left:358.8px;top:34.35px;font-size:10.6px;line-height:12px;">−11.1 (−0.06%)</div>
<div class="t" style="left:17.5px;top:50.0px;font-size:10.6px;line-height:12px;">Vol</div>
<div class="t" style="left:39.8px;top:50.0px;font-size:10.6px;line-height:12px;color:#EF5350">1.98K</div>
<svg style="position:absolute;left:10px;top:621.6px" width="18.5" height="9.6" viewBox="0 0 36 18.6"><path fill="#131722" d="M14 18.6H7V7H0V0h14v18.6zM28 18.6h-8L27.5 0h8L28 18.6z"/><circle cx="20" cy="3.5" r="3.5" fill="#131722"/></svg>
<div class="t" style="left:32px;top:619.9px;font-size:11.8px;line-height:14px;color:#262a35">TradingView</div>
</body></html>
